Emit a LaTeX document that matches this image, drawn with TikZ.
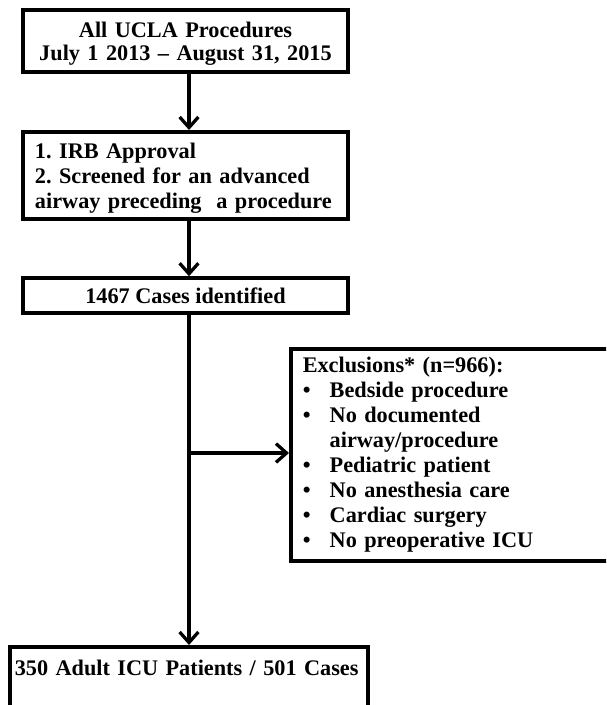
\documentclass[tikz,border=0pt]{standalone}
\usepackage{fontspec}
\setmainfont{Liberation Serif}
\usetikzlibrary{arrows.meta, positioning}
\frenchspacing

\tikzset{
  flowbox/.style={draw, line width=3pt, inner xsep=0.36cm, font=\fontsize{19}{21.3}\selectfont\bfseries},
  flowarrow/.style={line width=2.8pt, -{Straight Barb[length=9pt, width=16pt]}}
}
\newcommand{\exitem}[1]{\makebox[23pt][l]{\textbullet}#1}

\begin{document}
\begin{tikzpicture}[x=0.03cm, y=-0.03cm]
  \useasboundingbox (0,0) rectangle (606,705);
  \clip (0,0) rectangle (606,705);

  % Main column
  \node[flowbox, font=\fontsize{19}{19.6}\selectfont\bfseries, anchor=north, minimum width=9.75cm, text width=9.03cm, inner ysep=0pt, text height=0.84cm, text depth=1.02cm, align=center] (all) at (185.5,8) {All UCLA Procedures\\July 1 2013 – August 31, 2015};
  \node[flowbox, anchor=north, minimum width=9.75cm, text width=9.03cm, inner ysep=0pt, text height=0.81cm, text depth=1.8cm, align=left] (irb) at (185.5,130) {1. IRB Approval\\2. Screened for an advanced\\airway preceding~ a procedure};
  \node[flowbox, minimum width=9.75cm, minimum height=1.05cm, inner ysep=2pt, align=center] (cases) at (185.5,295.5) {1467 Cases identified};

  % Exclusions (runs off the right edge)
  \node[flowbox, anchor=north west, minimum width=10.8cm, minimum height=6.36cm, text width=10.08cm, align=left] (excl) at (289,347) {Exclusions* (n=966):\\
    \exitem{Bedside procedure}\\
    \exitem{No documented}\\
    \hspace*{23pt}airway/procedure\\
    \exitem{Pediatric patient}\\
    \exitem{No anesthesia care}\\
    \exitem{Cardiac surgery}\\
    \exitem{No preoperative ICU}};

  % Final cohort (runs off the bottom edge)
  \node[flowbox, anchor=north west, minimum width=10.74cm, inner xsep=0.15cm, inner ysep=0.36cm, text width=10.44cm, text height=0.51cm, text depth=1.8cm, align=left] (final) at (8,645) {350 Adult ICU Patients / 501 Cases};

  % Connectors
  \coordinate (split) at (189,453);
  \draw[flowarrow] (all.south -| split) -- (irb.north -| split);
  \draw[flowarrow] (irb.south -| split) -- (cases.north -| split);
  \draw[flowarrow] (cases.south -| split) -- (final.north -| split);
  \draw[flowarrow] (split) -- (excl.west |- split);
\end{tikzpicture}
\end{document}
